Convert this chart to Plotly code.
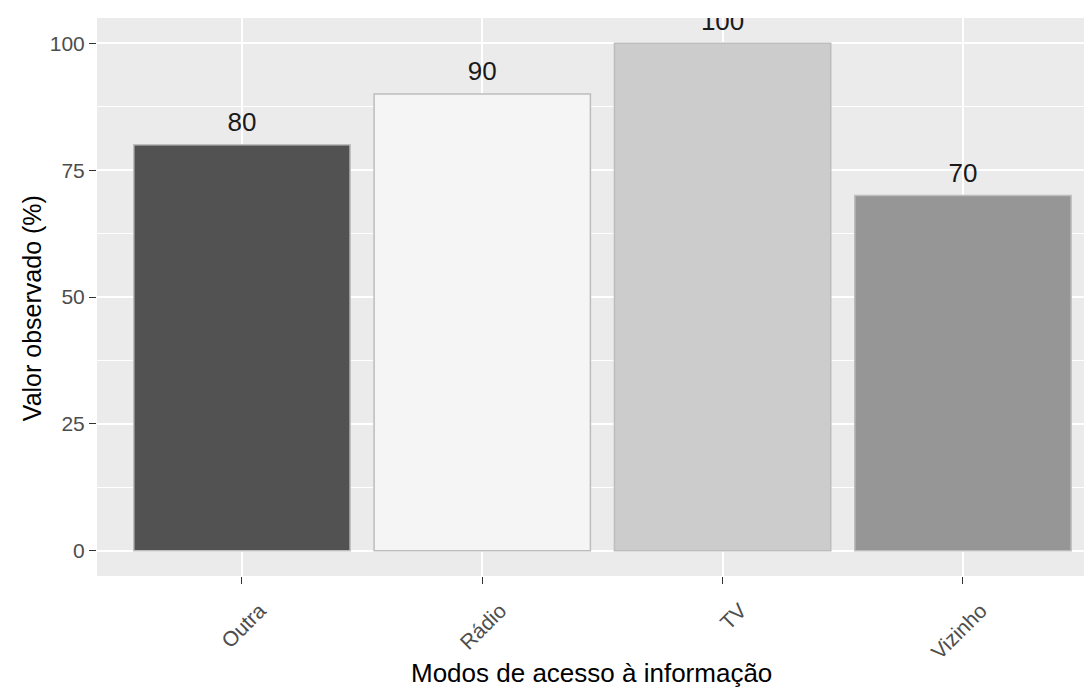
import plotly.graph_objects as go

categories = ["Outra", "Rádio", "TV", "Vizinho"]
values = [80, 90, 100, 70]
bar_colors = ["#525252", "#f5f5f5", "#cccccc", "#969696"]
y_ticks = [0, 25, 50, 75, 100]
x_title = "Modos de acesso à informação"
y_title = "Valor observado (%)"

label_offset = 4  # data units above bar top for value labels

FONT = "Liberation Sans, Arial, sans-serif"

# page body has an 8px margin; figure is sized/offset to compensate
fig = go.Figure()
fig.add_trace(go.Bar(
    x=categories, y=values, width=0.9,
    marker=dict(color=bar_colors, line=dict(color="#bdbdbd", width=1.5)),
    hoverinfo="skip", showlegend=False,
))
fig.add_trace(go.Scatter(
    x=categories, y=[v + label_offset for v in values],
    mode="text", text=[str(v) for v in values],
    textposition="middle center",
    textfont=dict(family=FONT, size=26, color="#1a1a1a"),
    cliponaxis=True, hoverinfo="skip", showlegend=False,
))

fig.update_layout(
    width=1084, height=683,
    margin=dict(l=89, r=0, t=10, b=115),
    paper_bgcolor="white", plot_bgcolor="#ebebeb",
    font=dict(family=FONT),
    bargap=0.1,
    annotations=[
        dict(text=y_title, xref="paper", yref="paper", x=-65 / 995, y=0.48,
             xanchor="center", yanchor="middle", textangle=-90, showarrow=False,
             font=dict(family=FONT, size=25, color="black")),
        dict(text=x_title, xref="paper", yref="paper", x=(591 - 97) / 995, y=-97 / 558,
             xanchor="center", yanchor="middle", showarrow=False,
             font=dict(family=FONT, size=26, color="black")),
    ],
)
fig.update_xaxes(
    type="category", range=[-0.603, 3.537],
    showgrid=True, gridcolor="white", gridwidth=1.5,
    ticks="outside", ticklen=7, tickcolor="#333333", tickwidth=1.2,
    tickangle=-45, tickfont=dict(family=FONT, size=21, color="#4d4d4d"),
    ticklabelshift=18, ticklabelstandoff=6,
    showline=False, zeroline=False,
)
fig.update_yaxes(
    range=[-5, 105], tickvals=y_ticks,
    showgrid=True, gridcolor="white", gridwidth=1.5,
    minor=dict(showgrid=True, gridcolor="white", gridwidth=0.75, dtick=12.5, tick0=0),
    ticks="outside", ticklen=7, tickcolor="#333333", tickwidth=1.2,
    tickfont=dict(family=FONT, size=21, color="#4d4d4d"),
    showline=False, zeroline=False,
)

fig.write_html("out.html")
